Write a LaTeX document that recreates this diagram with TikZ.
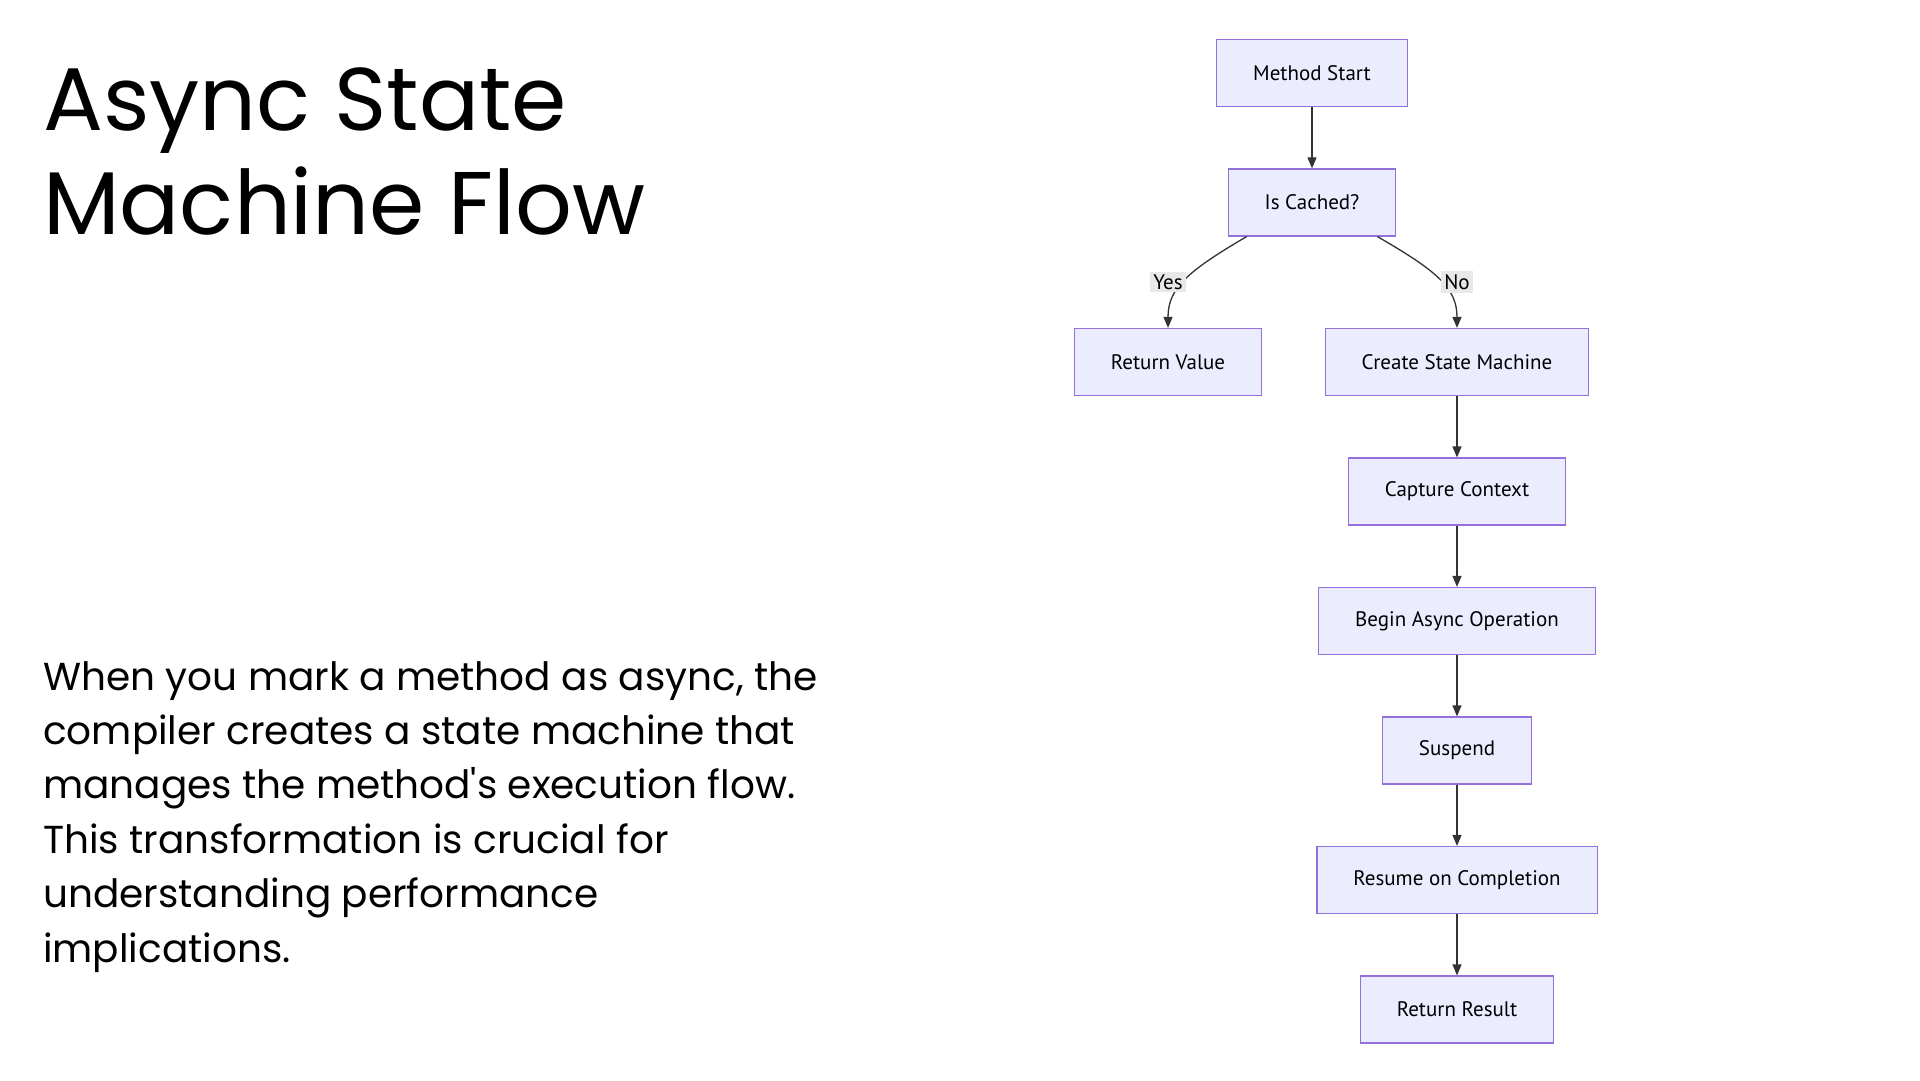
\documentclass[tikz,border=0pt]{standalone}
\usepackage{fontspec}
\setmainfont{Poppins}
\newfontfamily\boxfont{PT Sans}
\usepackage{tikz}
\usetikzlibrary{positioning}
\usetikzlibrary{arrows.meta}
\definecolor{boxfill}{HTML}{ECECFF}
\definecolor{boxline}{HTML}{9370DB}
\definecolor{edgeline}{HTML}{333333}
\definecolor{labelfill}{HTML}{E8E8E8}
\tikzset {
  % flowchart boxes
  main/.style = {draw=boxline, fill=boxfill, line width=1.2pt, rectangle,
    minimum height=67pt, inner xsep=36.5pt, font=\boxfont\fontsize{21}{25}\selectfont},
  % connectors between boxes
  flow/.style = {draw=edgeline, line width=1.3pt, -{Triangle[length=11pt,width=9pt]}},
  % yes / no labels on the branches
  branch/.style = {fill=labelfill, inner sep=3pt, font=\boxfont\fontsize{21}{25}\selectfont},
}
\begin{document}
\begin{tikzpicture}[x=1pt, y=-1pt, node distance={129.5pt}]
      \fill[white] (0,0) rectangle (1920,1080);
      \useasboundingbox (0,0) rectangle (1920,1080);

      \node[anchor=base west, align=left, inner sep=0pt,
        font=\fontsize{89}{104}\selectfont] (title) at (43,234)
        {Async State\\Machine Flow};

      \node[anchor=base west, align=left, inner sep=0pt,
        font=\fontsize{39}{54.4}\selectfont] (text) at (43,962)
        {When you mark a method as async, the\\
         compiler creates a state machine that\\
         manages the method\textquotesingle s execution flow.\\
         This transformation is crucial for\\
         understanding performance\\
         implications.};

      \node[main] (1) at (1312,73) {Method Start};

      \node[main] (2) [below of=1] {Is Cached?};

      \node[main] (3) at (1168,362) {Return Value};

      \node[main] (4) at (1457,362) {Create State Machine};

      \node[main] (5) [below of=4] {Capture Context};

      \node[main] (6) [below of=5] {Begin Async Operation};

      \node[main] (7) [below of=6] {Suspend};

      \node[main] (8) [below of=7] {Resume on Completion};

      \node[main] (9) [below of=8] {Return Result};

      \draw[flow] (1) -- (2);
      \draw[flow] (2.south west) ++(19,0) .. controls (1188,271) and (1168,288) .. (3.north);
      \draw[flow] (2.south east) ++(-19,0) .. controls (1437,271) and (1457,288) .. (4.north);
      \node[branch] (yes) at (1168,282) {Yes};
      \node[branch] (no) at (1457,282) {No};

      \draw[flow] (4) -- (5);
      \draw[flow] (5) -- (6);
      \draw[flow] (6) -- (7);
      \draw[flow] (7) -- (8);
      \draw[flow] (8) -- (9);
    \end{tikzpicture}
\end{document}
